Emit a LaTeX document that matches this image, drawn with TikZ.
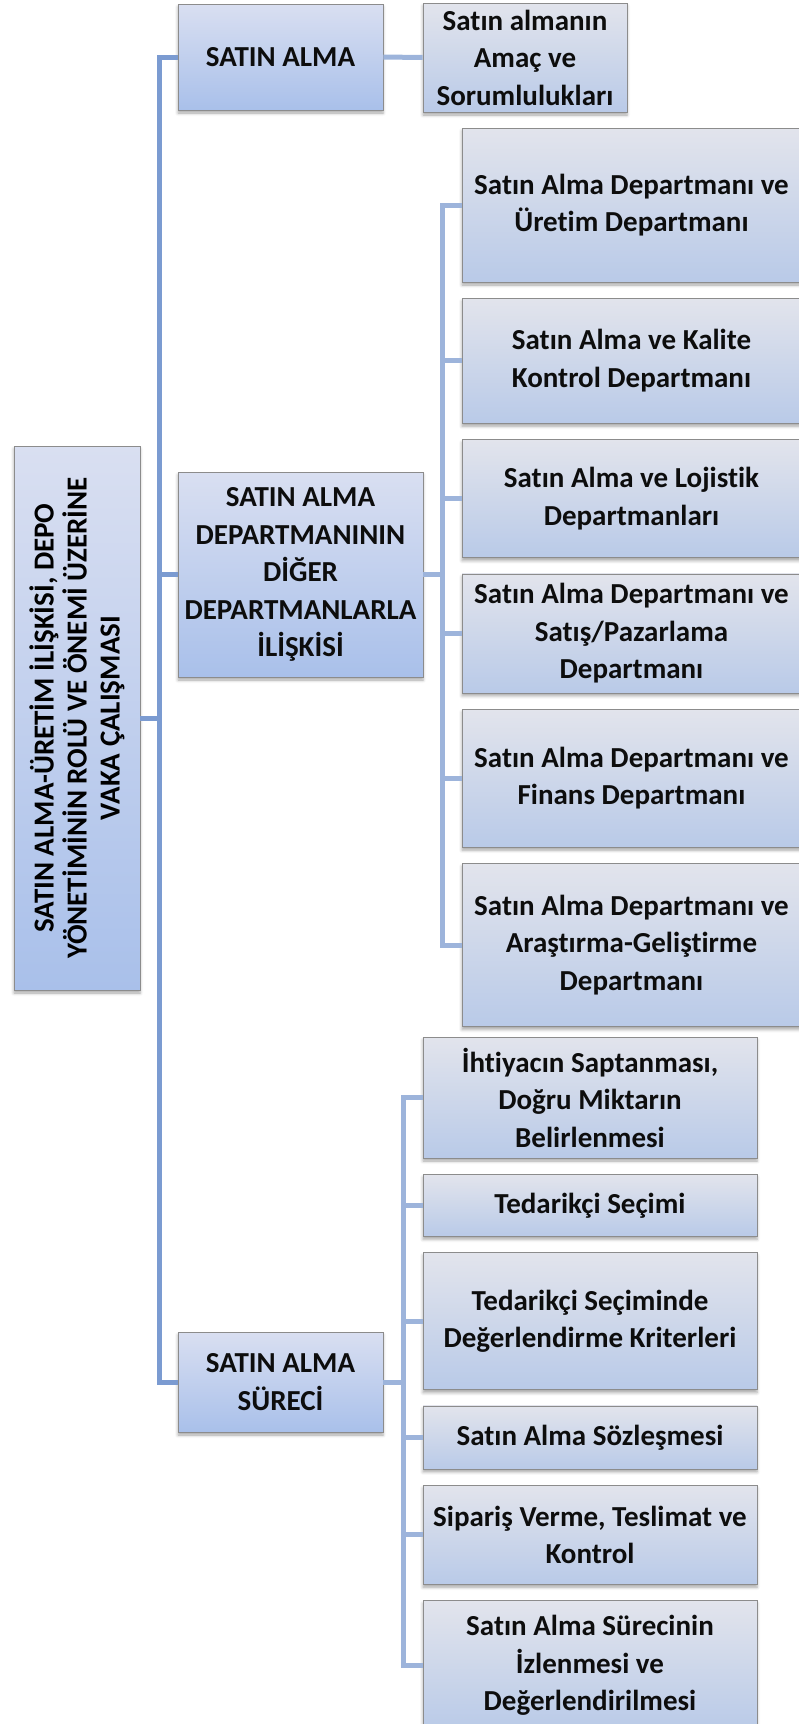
\documentclass[tikz,border=0pt]{standalone}
\usepackage{fontspec}
\setmainfont{Carlito}[Ligatures={NoCommon}]
\usetikzlibrary{positioning, shadows.blur}
\definecolor{topA}{HTML}{D9DFF1}
\definecolor{botA}{HTML}{A9C0EA}
\definecolor{topB}{HTML}{E2E4EC}
\definecolor{botB}{HTML}{B9CAE8}
\definecolor{boxedge}{HTML}{8C8C8C}
\definecolor{lineA}{HTML}{7B9BD1}
\definecolor{lineB}{HTML}{9DB4DB}
\newcommand{\boxfont}{\bfseries\fontsize{29}{37.5}\selectfont}
\tikzset{
    mainbox/.style={rectangle, draw=boxedge, line width=0.8pt, top color=topA, bottom color=botA,
        blur shadow={shadow xshift=0pt, shadow yshift=-3pt, shadow blur radius=3pt, shadow opacity=35},
        font=\boxfont, text=black!95, align=center, inner sep=0pt},
    subbox/.style={mainbox, top color=topB, bottom color=botB, minimum width=339pt},
    stepbox/.style={mainbox, top color=topB, bottom color=botB, minimum width=334pt},
    link/.style={draw=lineA, line width=5pt},
    sublink/.style={draw=lineB, line width=5pt}
}
\begin{document}
\begin{tikzpicture}[x=1pt, y=-1pt, node distance=15.5pt]
        \useasboundingbox (0,0) rectangle (799,1724);
        \clip (0,0) rectangle (799,1724);

        % Root
        \node [mainbox, minimum width=126pt, minimum height=544pt] (root) at (77,718) {};
        \node [rotate=90, font=\bfseries\fontsize{29}{33}\selectfont, align=center] (roottext) at (root.center)
            {SATIN ALMA-ÜRETİM İLİŞKİSİ, DEPO\\YÖNETİMİNİN ROLÜ VE ÖNEMİ ÜZERİNE\\VAKA ÇALIŞMASI};

        % Level one
        \node [mainbox, minimum width=205pt, minimum height=106pt] (sa) at (280.5,57) {SATIN ALMA};
        \node [mainbox, minimum width=245pt, minimum height=205pt] (dept) at (300.5,574.5)
            {SATIN ALMA\\DEPARTMANININ\\DİĞER\\DEPARTMANLARLA\\İLİŞKİSİ};
        \node [mainbox, minimum width=205pt, minimum height=100pt] (surec) at (280.5,1382) {SATIN ALMA\\SÜRECİ};

        % Purpose
        \node [mainbox, top color=topB, bottom color=botB, minimum width=204pt, minimum height=109pt] (amac) at (525,57.5)
            {Satın almanın\\Amaç ve\\Sorumlulukları};

        % Departments
        \node [subbox, minimum height=154pt] (d1) at (631.5,205) {Satın Alma Departmanı ve\\Üretim Departmanı};
        \node [subbox, minimum height=125pt, below=of d1] (d2) {Satın Alma ve Kalite\\Kontrol Departmanı};
        \node [subbox, minimum height=118pt, below=of d2] (d3) {Satın Alma ve Lojistik\\Departmanları};
        \node [subbox, minimum height=119pt, below=of d3] (d4) {Satın Alma Departmanı ve\\Satış/Pazarlama\\Departmanı};
        \node [subbox, minimum height=138pt, below=of d4] (d5) {Satın Alma Departmanı ve\\Finans Departmanı};
        \node [subbox, minimum height=163pt, below=of d5] (d6) {Satın Alma Departmanı ve\\Araştırma-Geliştirme\\Departmanı};

        % Process steps
        \node [stepbox, minimum height=121pt] (p1) at (590,1097.5) {İhtiyacın Saptanması,\\Doğru Miktarın\\Belirlenmesi};
        \node [stepbox, minimum height=62pt, below=of p1] (p2) {Tedarikçi Seçimi};
        \node [stepbox, minimum height=137pt, below=of p2] (p3) {Tedarikçi Seçiminde\\Değerlendirme Kriterleri};
        \node [stepbox, minimum height=63pt, below=of p3] (p4) {Satın Alma Sözleşmesi};
        \node [stepbox, minimum height=99pt, below=of p4] (p5) {Sipariş Verme, Teslimat ve\\Kontrol};
        \node [stepbox, minimum height=130pt, below=of p5] (p6) {Satın Alma Sürecinin\\İzlenmesi ve\\Değerlendirilmesi};

        % Lines
        \coordinate (trunk) at (159,718);
        \coordinate (rtrunk) at (442,574.5);
        \coordinate (ltrunk) at (403,1382);
        \path [link] (sa.west) -| (trunk) |- (surec.west);
        \path [link] (root.east) -- (trunk);
        \path [link] (dept.west) -- (dept.west -| trunk);
        \path [sublink] (sa) -- (amac);
        \path [sublink] (d1.west) -| (rtrunk) |- (d6.west);
        \path [sublink] (dept.east) -- (rtrunk);
        \foreach \n in {d2, d3, d4, d5}
            \path [sublink] (\n.west) -- (\n.west -| rtrunk);
        \path [sublink] (p1.west) -| (ltrunk) |- (p6.west);
        \path [sublink] (surec.east) -- (ltrunk);
        \foreach \n in {p2, p3, p4, p5}
            \path [sublink] (\n.west) -- (\n.west -| ltrunk);
    \end{tikzpicture}
\end{document}
